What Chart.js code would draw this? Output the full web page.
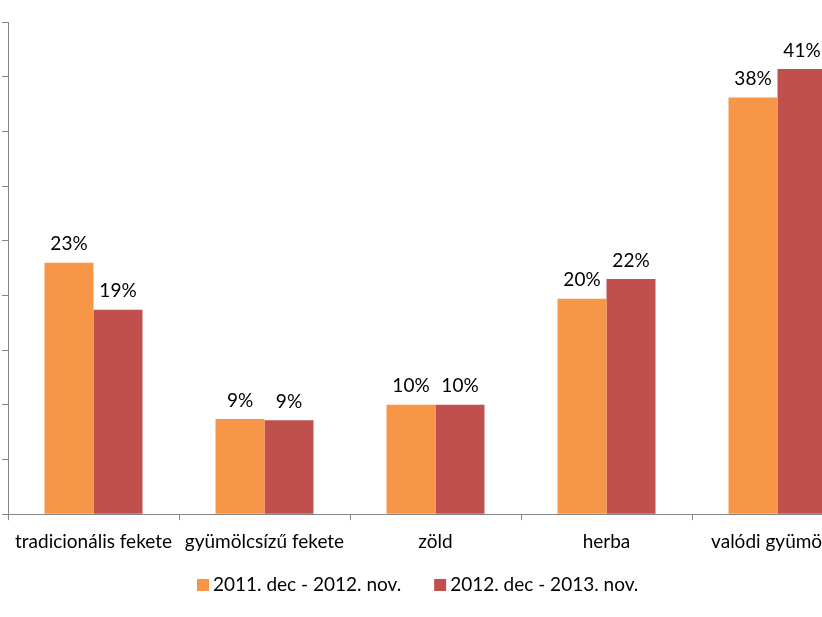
<!DOCTYPE html>
<html>
<head>
<meta charset="utf-8">
<script src="https://cdn.jsdelivr.net/npm/chart.js@4/dist/chart.umd.min.js"></script>
<style>
    html, body { margin: 0; padding: 0; background: #fff; overflow: hidden; }
    #wrap { position: relative; width: 870px; height: 617px; }
</style>
</head>
<body>
<div id="wrap"><canvas id="chart"></canvas></div>
<script>
// Chart data
const categories = ['tradicionális fekete', 'gyümölcsízű fekete', 'zöld', 'herba', 'valódi gyümölcs'];
const seriesNames = ['2011. dec - 2012. nov.', '2012. dec - 2013. nov.'];
const period1 = [23, 8.7, 10, 19.7, 38.1];
const period2 = [18.7, 8.6, 10, 21.5, 40.7];
const seriesColors = ['#F79646', '#C0504D'];

const FONT = 'Lato, "Liberation Sans", sans-serif';
const FONT_SIZE = 19;

// Percentage labels above each bar
const barLabels = {
    id: 'barLabels',
    afterDatasetsDraw(chart) {
        const ctx = chart.ctx;
        ctx.save();
        ctx.font = FONT_SIZE + 'px ' + FONT;
        ctx.fillStyle = '#000';
        ctx.textAlign = 'center';
        ctx.textBaseline = 'bottom';
        chart.data.datasets.forEach((ds, i) => {
            chart.getDatasetMeta(i).data.forEach((bar, j) => {
                ctx.fillText(Math.round(ds.data[j]) + '%', bar.x, bar.y - 9);
            });
        });
        ctx.restore();
    }
};

// Legend drawn under the axis
const bottomLegend = {
    id: 'bottomLegend',
    afterDraw(chart) {
        const ctx = chart.ctx;
        ctx.save();
        ctx.font = FONT_SIZE + 'px ' + FONT;
        ctx.textBaseline = 'middle';
        ctx.textAlign = 'left';
        let x = 197;
        const y = 585;
        chart.data.datasets.forEach((ds) => {
            ctx.fillStyle = ds.backgroundColor;
            ctx.fillRect(x, y - 6, 12, 12);
            ctx.fillStyle = '#000';
            ctx.fillText(ds.label, x + 16, y);
            x += 16 + ctx.measureText(ds.label).width + 33;
        });
        ctx.restore();
    }
};

new Chart(document.getElementById('chart'), {
    type: 'bar',
    data: {
        labels: categories,
        datasets: [
            { label: seriesNames[0], data: period1, backgroundColor: seriesColors[0] },
            { label: seriesNames[1], data: period2, backgroundColor: seriesColors[1] }
        ]
    },
    options: {
        responsive: true,
        maintainAspectRatio: false,
        animation: false,
        categoryPercentage: 0.573,
        barPercentage: 1,
        layout: { padding: { left: 2, top: 22, right: 7, bottom: 54 } },
        plugins: {
            legend: { display: false },
            tooltip: { enabled: false }
        },
        scales: {
            x: {
                grid: { drawOnChartArea: false, tickLength: 6, color: '#868686', offset: true },
                border: { color: '#868686', width: 1 },
                ticks: { color: '#000', font: { size: FONT_SIZE, family: FONT }, padding: 10, maxRotation: 0, autoSkip: false }
            },
            y: {
                min: 0,
                max: 45,
                grid: { drawOnChartArea: false, tickLength: 6, color: '#868686' },
                border: { color: '#868686', width: 1 },
                ticks: { stepSize: 5, display: false }
            }
        }
    },
    plugins: [barLabels, bottomLegend]
});
</script>
</body>
</html>
